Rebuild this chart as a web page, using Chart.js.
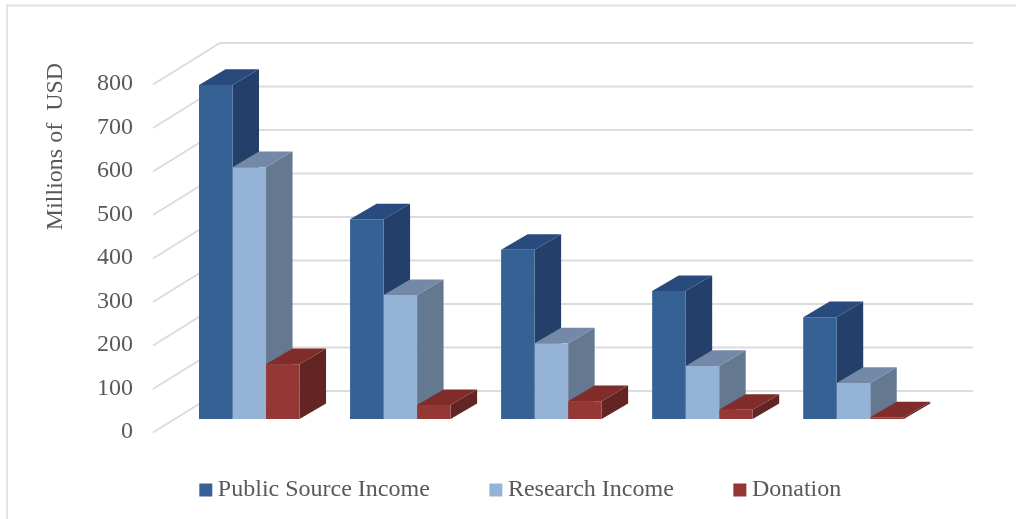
<!DOCTYPE html>
<html>
<head>
<meta charset="utf-8">
<script src="https://cdn.jsdelivr.net/npm/chart.js@4/dist/chart.umd.min.js"></script>
<style>
  html, body { margin: 0; padding: 0; background: #fff; }
  canvas { display: block; }
</style>
</head>
<body>
<canvas id="chart" width="1016" height="519"></canvas>
<script>
const categories = ['1', '2', '3', '4', '5'];
const publicSource = [768, 459, 389, 294, 234];
const researchIncome = [579, 285, 174, 122, 83];
const donation = [126, 32, 41, 21, 4];
const yTicks = [0, 100, 200, 300, 400, 500, 600, 700, 800];

const serif = '"Liberation Serif", "Times New Roman", serif';
const textColor = '#595959';
const gridColor = '#dcdcdc';

// side and top faces for each series, in dataset order
const sideColors = ['#24406a', '#64788f', '#632523'];
const topColors = ['#284a7c', '#7489a8', '#7f2c2a'];

// how far the bar depth and the walls sit from the plane of the bar fronts
const barDepth = { x: 26.5, y: -15.6 };
const wall = { frontX: 153, backX: 220, endX: 973, frontY: 13.5, backY: -28 };

function poly(ctx, color, pts) {
  ctx.fillStyle = color;
  ctx.beginPath();
  pts.forEach((pt, i) => (i ? ctx.lineTo(pt[0], pt[1]) : ctx.moveTo(pt[0], pt[1])));
  ctx.closePath();
  ctx.fill();
}

const walls3d = {
  id: 'walls3d',
  beforeDatasetsDraw(chart) {
    const ctx = chart.ctx;
    const y = chart.scales.y;
    ctx.save();

    // frame of the picture, only top and left
    ctx.strokeStyle = '#e2e2e2';
    ctx.lineWidth = 2;
    ctx.beginPath();
    ctx.moveTo(7, 519);
    ctx.lineTo(7, 5.5);
    ctx.lineTo(1016, 5.5);
    ctx.stroke();

    // left wall and back wall
    ctx.strokeStyle = gridColor;
    ctx.lineWidth = 2;
    yTicks.forEach(v => {
      const py = y.getPixelForValue(v);
      ctx.beginPath();
      ctx.moveTo(wall.frontX, py + wall.frontY);
      ctx.lineTo(wall.backX, py + wall.backY);
      ctx.lineTo(wall.endX, py + wall.backY);
      ctx.stroke();
    });

    // sides and tops go left to right so the next bar covers the last one
    chart.data.labels.forEach((label, c) => {
      chart.data.datasets.forEach((ds, i) => {
        const bar = chart.getDatasetMeta(i).data[c];
        const l = bar.x - bar.width / 2;
        const r = bar.x + bar.width / 2;
        const dx = barDepth.x;
        const dy = barDepth.y;
        poly(ctx, sideColors[i], [[r, bar.y], [r + dx, bar.y + dy], [r + dx, bar.base + dy], [r, bar.base]]);
        poly(ctx, topColors[i], [[l, bar.y], [l + dx, bar.y + dy], [r + dx, bar.y + dy], [r, bar.y]]);
      });
    });
    ctx.restore();
  },
  afterDraw(chart) {
    // the axis title sits above the middle of the axis, the scale can't place it there
    const ctx = chart.ctx;
    ctx.save();
    ctx.translate(56, 146.5);
    ctx.rotate(-Math.PI / 2);
    ctx.font = '24px ' + serif;
    ctx.fillStyle = textColor;
    ctx.textAlign = 'center';
    ctx.textBaseline = 'middle';
    ctx.fillText('Millions of  USD', 0, 0);
    ctx.restore();
  }
};

// the legend has wide item padding, so fix its height and nudge it into place
const legendPlace = {
  id: 'legendPlace',
  beforeInit(chart) {
    const fit = chart.legend.fit;
    chart.legend.fit = function () {
      fit.call(this);
      this.height = 100;
    };
  },
  afterLayout(chart) {
    const legend = chart.legend;
    legend.left += 19;
    legend.right += 19;
    legend.top -= 7;
  }
};

new Chart(document.getElementById('chart'), {
  type: 'bar',
  data: {
    labels: categories,
    datasets: [
      { label: 'Public Source Income', data: publicSource, backgroundColor: '#356195' },
      { label: 'Research Income', data: researchIncome, backgroundColor: '#95b3d7' },
      { label: 'Donation', data: donation, backgroundColor: '#953735' }
    ]
  },
  options: {
    responsive: false,
    animation: false,
    devicePixelRatio: 1,
    layout: { padding: { left: 80, right: 87, top: 71, bottom: 0 } },
    datasets: { bar: { categoryPercentage: 0.6656, barPercentage: 1 } },
    scales: {
      x: { display: false },
      y: {
        min: yTicks[0],
        max: yTicks[yTicks.length - 1],
        afterBuildTicks: s => { s.ticks = yTicks.map(v => ({ value: v })); },
        afterFit: s => { s.width = 93.75; },
        grid: { display: false, drawTicks: false },
        border: { display: false },
        ticks: {
          color: textColor,
          font: { family: serif, size: 24 },
          padding: 40.75,
          labelOffset: 13
        }
      }
    },
    plugins: {
      tooltip: { enabled: false },
      legend: {
        position: 'bottom',
        labels: {
          color: textColor,
          font: { family: serif, size: 24 },
          usePointStyle: true,
          pointStyle: 'rect',
          boxWidth: 0.1,
          boxHeight: 13,
          padding: 66
        }
      }
    }
  },
  plugins: [walls3d, legendPlace]
});
</script>
</body>
</html>
